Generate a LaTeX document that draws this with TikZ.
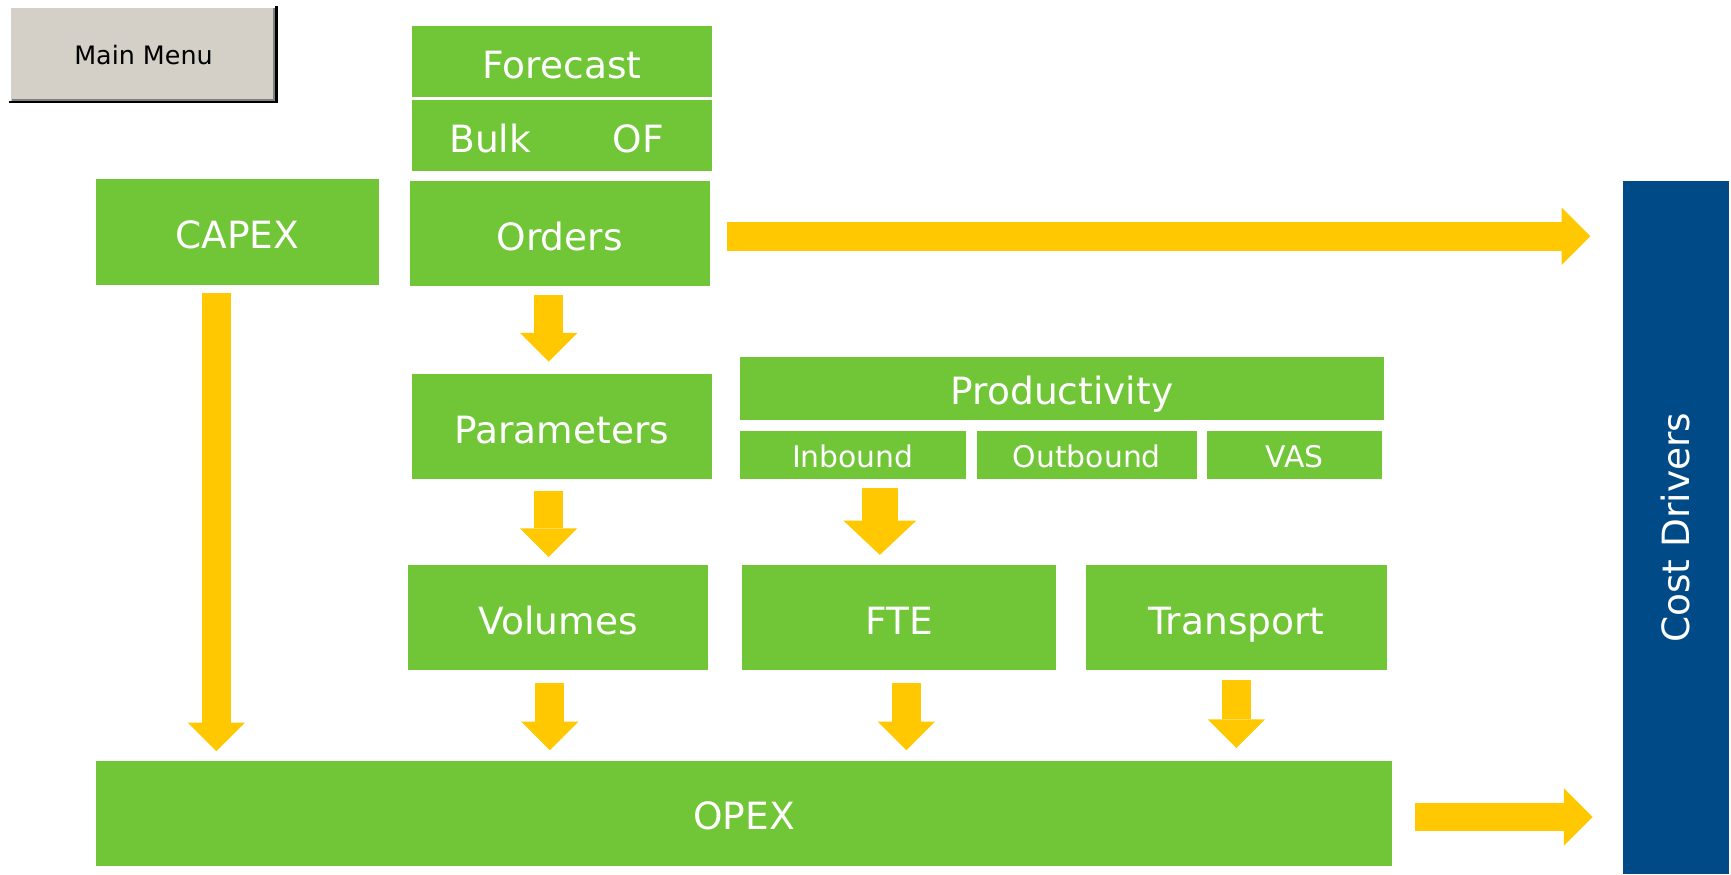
\documentclass[tikz,border=0pt]{standalone}
\usepackage{fontspec}
\setmainfont{DejaVu Sans}
\usepackage{graphicx}
\usetikzlibrary{arrows.meta,calc}

\definecolor{leaf}{RGB}{112,198,54}
\definecolor{amber}{RGB}{255,200,0}
\definecolor{navy}{RGB}{0,75,135}
\definecolor{btnface}{RGB}{212,208,200}
\definecolor{btnshade}{RGB}{128,128,128}

\tikzset{
  gbox/.style={fill=leaf, draw=none, text=white, inner sep=0pt,
    text height=15pt, text depth=0pt,
    font=\fontsize{17}{20}\selectfont},
  subbox/.style={gbox, text height=11.8pt, text depth=0pt,
    font=\fontsize{13.5}{16}\selectfont},
  label text/.style={text=white, inner sep=0pt, text height=15pt, text depth=0pt,
    font=\fontsize{17}{20}\selectfont},
  barrow/.style={draw=amber, line width=13pt,
    -{Triangle[length=13pt, width=26pt, line width=0pt]}},
  widearrow/.style={draw=amber, line width=16.5pt,
    -{Triangle[length=15.5pt, width=33pt, line width=0pt]}},
  menubtn/.style={fill=btnface, draw=none, text=black, inner sep=0pt,
    font=\fontsize{11.5}{14}\selectfont},
}

\begin{document}
\begin{tikzpicture}[x=0.5pt, y=-0.5pt]
\useasboundingbox (0,0) rectangle (1568,792);
\fill[white] (0,0) rectangle (1568,792);

% Main menu button with a raised, bevelled look
\node[menubtn, minimum width=120pt, minimum height=42.5pt] (menu) at (130,49.5) {Main Menu};
\draw[white, line width=0.8pt] (menu.south west) -- (menu.north west) -- (menu.north east);
\draw[btnshade, line width=1pt] ($(menu.south west)+(1,-2)$) -- ($(menu.south east)+(-2,-2)$) -- ($(menu.north east)+(-2,1)$);
\draw[black, line width=1.3pt] ($(menu.south west)+(-1,0)$) -- (menu.south east) -- ($(menu.north east)+(0,-1)$);

% Input blocks
\node[gbox, minimum width=136pt, minimum height=32pt] (forecast) at (509,56) {Forecast};
\node[gbox, minimum width=136pt, minimum height=32pt] (bulkof) at (509,123) {};
\node[label text] (bulk) at (444,123) {Bulk};
\node[label text] (of) at (578,123) {OF};
\node[gbox, minimum width=136pt, minimum height=47.5pt] (orders) at (507,211.5) {Orders};
\node[gbox, minimum width=128pt, minimum height=48pt] (capex) at (215,210) {CAPEX};
\node[gbox, minimum width=136pt, minimum height=47.5pt] (params) at (509,386.5) {Parameters};

% Productivity and its split
\node[gbox, minimum width=292pt, minimum height=28.5pt] (prod) at (962,351.5) {Productivity};
\node[subbox, minimum width=102.5pt, minimum height=22pt] (inbound) at (772.5,412) {Inbound};
\node[subbox, minimum width=99.5pt, minimum height=22pt] (outbound) at (984.5,412) {Outbound};
\node[subbox, minimum width=79.5pt, minimum height=22pt] (vas) at (1172.5,412) {VAS};

% Cost blocks
\node[gbox, minimum width=135.5pt, minimum height=47.5pt] (volumes) at (505.5,559.5) {Volumes};
\node[gbox, minimum width=142.5pt, minimum height=47.5pt] (fte) at (814.5,559.5) {FTE};
\node[gbox, minimum width=136pt, minimum height=47.5pt] (transport) at (1120,559.5) {Transport};
\node[gbox, minimum width=587pt, minimum height=47.5pt] (opex) at (674,736.5) {OPEX};

% Cost drivers column
\node[fill=navy, text=white, inner sep=0pt, minimum width=48pt, minimum height=314pt,
  font=\fontsize{17}{20}\selectfont] (cost) at (1518,478) {\rotatebox{90}{Cost Drivers}};

% Flow arrows
\coordinate (ordersout) at ($(orders.east)+(15,2.5)$);
\coordinate (ordersin) at ($(cost.west |- ordersout)+(-29,0)$);
\draw[barrow] (ordersout) -- (ordersin);

\draw[barrow] ($(orders.south)+(-10,8)$) -- ($(params.north)+(-12,-11)$);
\draw[barrow] ($(params.south)+(-12,10)$) -- ($(volumes.north)+(-8.5,-7)$);
\draw[widearrow] ($(inbound.south)+(24.5,8)$) -- ($(fte.north)+(-17.5,-9)$);

\draw[barrow] ($(capex.south)+(-19,7)$) -- ($(capex.south |- opex.north)+(-19,-8)$);
\draw[barrow] ($(volumes.south)+(-7.5,11)$) -- ($(volumes.south |- opex.north)+(-7.5,-9)$);
\draw[barrow] ($(fte.south)+(6.5,11)$) -- ($(fte.south |- opex.north)+(6.5,-9)$);
\draw[barrow] ($(transport.south)+(0,9)$) -- ($(transport.south |- opex.north)+(0,-11)$);

\coordinate (opexout) at ($(opex.east)+(20,3.5)$);
\coordinate (opexin) at ($(cost.west |- opexout)+(-27,0)$);
\draw[barrow] (opexout) -- (opexin);
\end{tikzpicture}
\end{document}
